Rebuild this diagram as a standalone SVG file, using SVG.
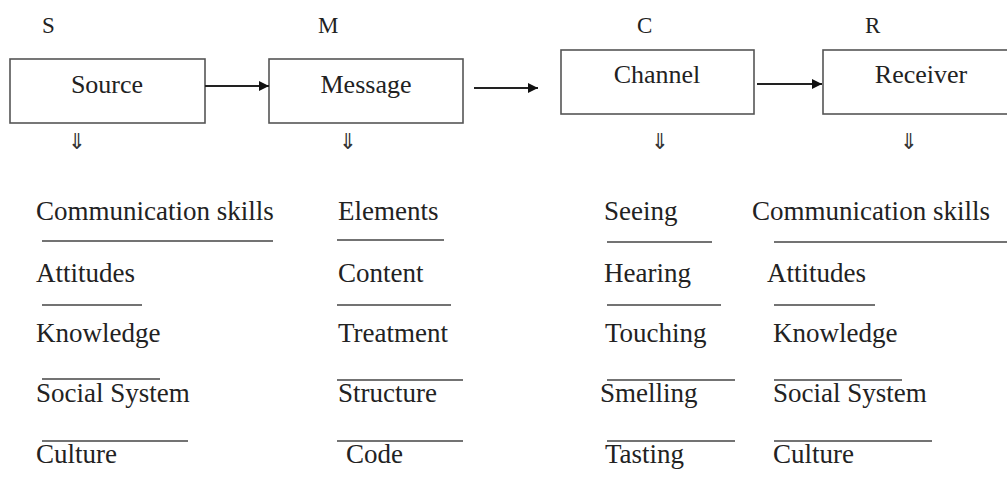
<svg xmlns="http://www.w3.org/2000/svg" width="1007" height="497" viewBox="0 0 1007 497">
<style>
.box{fill:#fff;stroke:#555;stroke-width:1.6}
.bt{font-family:'Liberation Serif','Times New Roman','DejaVu Serif',serif;font-size:26px;fill:#222;text-anchor:middle}
.lab{font-family:'Liberation Serif','Times New Roman','DejaVu Serif',serif;font-size:23px;fill:#222}
.it{font-family:'Liberation Serif','Times New Roman','DejaVu Serif',serif;font-size:27px;fill:#222}
.dn{font-family:'DejaVu Sans',sans-serif;font-size:22px;fill:#333;text-anchor:middle}
.ul{stroke:#444;stroke-width:1.6}
.con{stroke:#222;stroke-width:1.8;fill:none}
</style>
<defs>
<marker id="ah" viewBox="0 0 10 10" refX="10" refY="5" markerWidth="11" markerHeight="10" markerUnits="userSpaceOnUse" orient="auto">
<path d="M0,0 L10,5 L0,10 z" fill="#111"/>
</marker>
</defs>
<rect width="1007" height="497" fill="#fff"/>
<g id="labels">
<text class="lab" x="42" y="33">S</text>
<text class="lab" x="318" y="33">M</text>
<text class="lab" x="637" y="33">C</text>
<text class="lab" x="865" y="33">R</text>
</g>
<g id="source">
<rect class="box" x="10" y="59" width="195" height="64"/>
<text class="bt" x="107" y="93">Source</text>
</g>
<g id="message">
<rect class="box" x="269" y="59" width="194" height="64"/>
<text class="bt" x="366" y="93">Message</text>
</g>
<g id="channel">
<rect class="box" x="561" y="50" width="193" height="64"/>
<text class="bt" x="657" y="83">Channel</text>
</g>
<g id="receiver">
<rect class="box" x="823" y="50" width="190" height="64"/>
<text class="bt" x="921" y="83">Receiver</text>
</g>
<g id="connectors">
<line class="con" x1="205" y1="86" x2="269" y2="86" marker-end="url(#ah)"/>
<line class="con" x1="474" y1="88" x2="538" y2="88" marker-end="url(#ah)"/>
<line class="con" x1="757" y1="84" x2="822" y2="84" marker-end="url(#ah)"/>
</g>
<g id="down-arrows">
<text class="dn" x="77" y="149">⇓</text>
<text class="dn" x="348" y="149">⇓</text>
<text class="dn" x="660" y="149">⇓</text>
<text class="dn" x="909" y="149">⇓</text>
</g>
<g id="source-list">
<text class="it" x="36" y="220">Communication skills</text>
<line class="ul" x1="42" y1="241" x2="273" y2="241"/>
<text class="it" x="36" y="282">Attitudes</text>
<line class="ul" x1="42" y1="305" x2="142" y2="305"/>
<text class="it" x="36" y="342">Knowledge</text>
<line class="ul" x1="42" y1="379" x2="160" y2="379"/>
<text class="it" x="36" y="402">Social System</text>
<line class="ul" x1="42" y1="441" x2="188" y2="441"/>
<text class="it" x="36" y="463">Culture</text>
</g>
<g id="message-list">
<text class="it" x="338" y="220">Elements</text>
<line class="ul" x1="337" y1="240" x2="444" y2="240"/>
<text class="it" x="338" y="282">Content</text>
<line class="ul" x1="337" y1="305" x2="451" y2="305"/>
<text class="it" x="338" y="342">Treatment</text>
<line class="ul" x1="337" y1="380" x2="463" y2="380"/>
<text class="it" x="338" y="402">Structure</text>
<line class="ul" x1="337" y1="441" x2="463" y2="441"/>
<text class="it" x="346" y="463">Code</text>
</g>
<g id="channel-list">
<text class="it" x="604" y="220">Seeing</text>
<line class="ul" x1="607" y1="242" x2="712" y2="242"/>
<text class="it" x="604" y="282">Hearing</text>
<line class="ul" x1="607" y1="305" x2="721" y2="305"/>
<text class="it" x="605" y="342">Touching</text>
<line class="ul" x1="607" y1="380" x2="735" y2="380"/>
<text class="it" x="600" y="402">Smelling</text>
<line class="ul" x1="607" y1="441" x2="735" y2="441"/>
<text class="it" x="605" y="463">Tasting</text>
</g>
<g id="receiver-list">
<text class="it" x="752" y="220" textLength="238" lengthAdjust="spacing">Communication skills</text>
<line class="ul" x1="774" y1="242" x2="1007" y2="242"/>
<text class="it" x="767" y="282">Attitudes</text>
<line class="ul" x1="774" y1="305" x2="875" y2="305"/>
<text class="it" x="773" y="342">Knowledge</text>
<line class="ul" x1="774" y1="380" x2="902" y2="380"/>
<text class="it" x="773" y="402">Social System</text>
<line class="ul" x1="774" y1="441" x2="932" y2="441"/>
<text class="it" x="773" y="463">Culture</text>
</g>
</svg>
